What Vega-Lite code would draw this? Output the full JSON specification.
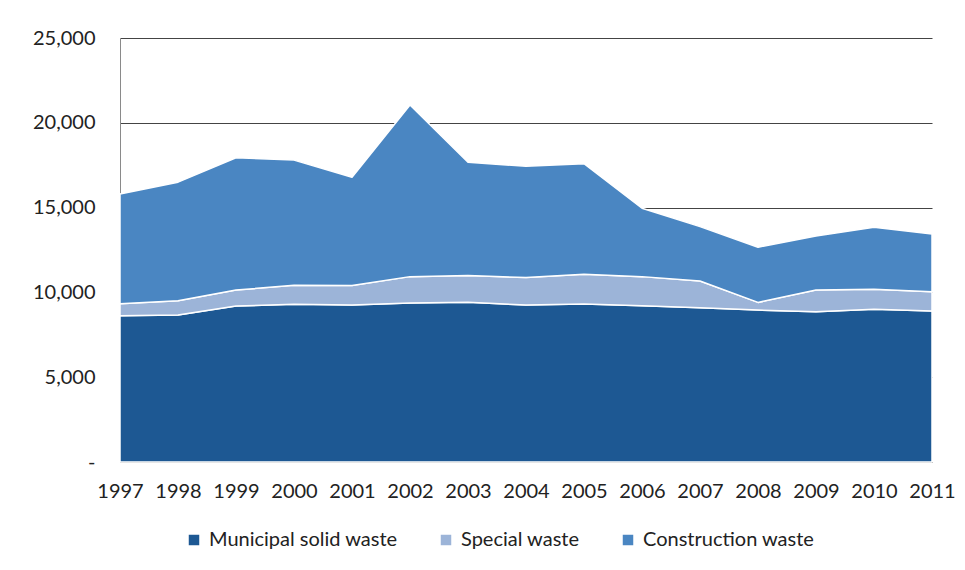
{
  "$schema": "https://vega.github.io/schema/vega-lite/v6.json",
  "width": 812,
  "height": 424,
  "autosize": {"type": "none"},
  "padding": {"left": 120, "top": 38, "right": 33, "bottom": 108},
  "background": "white",
  "config": {
    "view": {"stroke": null},
    "font": "Lato",
    "axis": {"labelFont": "Lato", "labelColor": "#222222"},
    "legend": {"labelFont": "Lato"}
  },
  "data": {
    "values": [
      {"year": 1997, "type": "Municipal solid waste", "rank": 1, "value": 8630},
      {"year": 1998, "type": "Municipal solid waste", "rank": 1, "value": 8670},
      {"year": 1999, "type": "Municipal solid waste", "rank": 1, "value": 9200},
      {"year": 2000, "type": "Municipal solid waste", "rank": 1, "value": 9300},
      {"year": 2001, "type": "Municipal solid waste", "rank": 1, "value": 9260},
      {"year": 2002, "type": "Municipal solid waste", "rank": 1, "value": 9380},
      {"year": 2003, "type": "Municipal solid waste", "rank": 1, "value": 9420},
      {"year": 2004, "type": "Municipal solid waste", "rank": 1, "value": 9250},
      {"year": 2005, "type": "Municipal solid waste", "rank": 1, "value": 9320},
      {"year": 2006, "type": "Municipal solid waste", "rank": 1, "value": 9220},
      {"year": 2007, "type": "Municipal solid waste", "rank": 1, "value": 9100},
      {"year": 2008, "type": "Municipal solid waste", "rank": 1, "value": 8960},
      {"year": 2009, "type": "Municipal solid waste", "rank": 1, "value": 8860},
      {"year": 2010, "type": "Municipal solid waste", "rank": 1, "value": 9000},
      {"year": 2011, "type": "Municipal solid waste", "rank": 1, "value": 8900},
      {"year": 1997, "type": "Special waste", "rank": 2, "value": 700},
      {"year": 1998, "type": "Special waste", "rank": 2, "value": 840},
      {"year": 1999, "type": "Special waste", "rank": 2, "value": 940},
      {"year": 2000, "type": "Special waste", "rank": 2, "value": 1120},
      {"year": 2001, "type": "Special waste", "rank": 2, "value": 1140},
      {"year": 2002, "type": "Special waste", "rank": 2, "value": 1550},
      {"year": 2003, "type": "Special waste", "rank": 2, "value": 1570},
      {"year": 2004, "type": "Special waste", "rank": 2, "value": 1630},
      {"year": 2005, "type": "Special waste", "rank": 2, "value": 1750},
      {"year": 2006, "type": "Special waste", "rank": 2, "value": 1710},
      {"year": 2007, "type": "Special waste", "rank": 2, "value": 1570},
      {"year": 2008, "type": "Special waste", "rank": 2, "value": 450},
      {"year": 2009, "type": "Special waste", "rank": 2, "value": 1280},
      {"year": 2010, "type": "Special waste", "rank": 2, "value": 1180},
      {"year": 2011, "type": "Special waste", "rank": 2, "value": 1140},
      {"year": 1997, "type": "Construction waste", "rank": 3, "value": 6470},
      {"year": 1998, "type": "Construction waste", "rank": 3, "value": 6990},
      {"year": 1999, "type": "Construction waste", "rank": 3, "value": 7800},
      {"year": 2000, "type": "Construction waste", "rank": 3, "value": 7380},
      {"year": 2001, "type": "Construction waste", "rank": 3, "value": 6390},
      {"year": 2002, "type": "Construction waste", "rank": 3, "value": 10120},
      {"year": 2003, "type": "Construction waste", "rank": 3, "value": 6680},
      {"year": 2004, "type": "Construction waste", "rank": 3, "value": 6560},
      {"year": 2005, "type": "Construction waste", "rank": 3, "value": 6520},
      {"year": 2006, "type": "Construction waste", "rank": 3, "value": 4030},
      {"year": 2007, "type": "Construction waste", "rank": 3, "value": 3210},
      {"year": 2008, "type": "Construction waste", "rank": 3, "value": 3250},
      {"year": 2009, "type": "Construction waste", "rank": 3, "value": 3190},
      {"year": 2010, "type": "Construction waste", "rank": 3, "value": 3660},
      {"year": 2011, "type": "Construction waste", "rank": 3, "value": 3400}
    ]
  },
  "mark": {"type": "area", "stroke": "white", "strokeWidth": 1.5, "strokeJoin": "round"},
  "encoding": {
    "x": {
      "field": "year",
      "type": "quantitative",
      "scale": {"domain": [1997, 2011], "nice": false, "zero": false},
      "axis": {
        "values": [1997, 1998, 1999, 2000, 2001, 2002, 2003, 2004, 2005, 2006, 2007, 2008, 2009, 2010, 2011],
        "format": "d",
        "title": null,
        "grid": false,
        "ticks": false,
        "domain": true,
        "domainColor": "#9a9a9a",
        "labelFontSize": 20,
        "labelPadding": 19,
        "labelFlush": false
      }
    },
    "y": {
      "field": "value",
      "type": "quantitative",
      "stack": "zero",
      "scale": {"domain": [0, 25000], "nice": false},
      "axis": {
        "values": [0, 5000, 10000, 15000, 20000, 25000],
        "labelExpr": "datum.value == 0 ? '-' : format(datum.value, ',')",
        "title": null,
        "ticks": false,
        "domain": true,
        "domainColor": "#8a8a8a",
        "grid": true,
        "gridColor": "#444444",
        "gridWidth": 1,
        "labelFontSize": 20,
        "labelPadding": 25
      }
    },
    "color": {
      "field": "type",
      "type": "nominal",
      "scale": {
        "domain": ["Municipal solid waste", "Special waste", "Construction waste"],
        "range": ["#1d5893", "#9cb4d8", "#4a86c2"]
      },
      "legend": {
        "title": null,
        "orient": "none",
        "direction": "horizontal",
        "legendX": 64,
        "legendY": 492,
        "symbolType": "square",
        "symbolSize": 110,
        "symbolStrokeWidth": 0,
        "labelFontSize": 20,
        "labelLimit": 500,
        "labelColor": "#222222",
        "columnPadding": 38,
        "labelOffset": 5
      }
    },
    "order": {"field": "rank", "type": "quantitative"}
  }
}
